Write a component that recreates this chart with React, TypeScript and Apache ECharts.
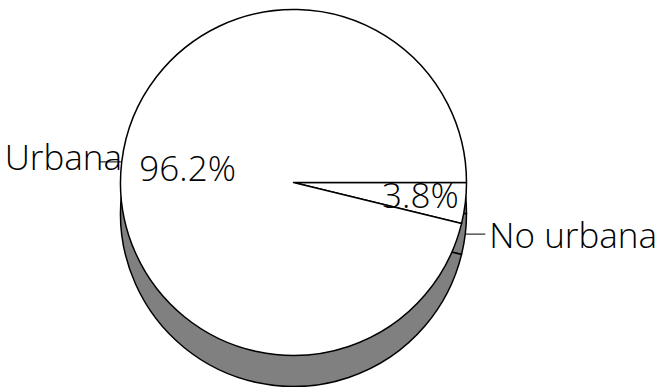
import { useEffect, useRef } from 'react';
import * as echarts from 'echarts';

const categories = ['No urbana', 'Urbana'];
const values = [3.8, 96.2];

const CX = 293.5;
const CY = 182.5;
const R = 173;
const DEPTH = 31;
const FONT = 'Open Sans';
const FS = 35;

export default function App() {
  const ref = useRef<HTMLDivElement>(null);
  useEffect(() => {
    const chart = echarts.init(ref.current!, null, { renderer: 'svg' });
    const textStyle = { fontFamily: FONT, fontSize: FS, fontWeight: 300, color: '#000' };
    const pctOffsets = [[38, 1], [-17, -4]];
    chart.setOption({
      animation: false,
      backgroundColor: '#fff',
      series: [
        {
          type: 'pie',
          silent: true,
          center: [CX, CY + DEPTH],
          radius: R,
          startAngle: 0,
          clockwise: true,
          avoidLabelOverlap: false,
          itemStyle: { color: '#808080', borderColor: '#000', borderWidth: 1.5 },
          emphasis: { disabled: true },
          data: categories.map((name, i) => ({
            name,
            value: values[i],
            label: i === 0
              ? { show: true, position: 'outside', formatter: '{b}', ...textStyle, distanceToLabelLine: 4, edgeDistance: 0 }
              : { show: false },
            labelLine: i === 0
              ? { show: true, length: 0, length2: 20, lineStyle: { color: '#000', width: 1 } }
              : { show: false },
          })),
        },
        {
          type: 'pie',
          silent: true,
          center: [CX, CY],
          radius: R,
          startAngle: 0,
          clockwise: true,
          avoidLabelOverlap: false,
          itemStyle: { color: '#fff', borderColor: '#000', borderWidth: 1.5 },
          emphasis: { disabled: true },
          label: { show: true, position: 'inside', formatter: '{d}%', ...textStyle },
          labelLine: { show: false },
          labelLayout: (p: any) => ({ dx: pctOffsets[p.dataIndex][0], dy: pctOffsets[p.dataIndex][1] }),
          data: categories.map((name, i) => ({ name, value: values[i] })),
        },
        {
          type: 'pie',
          silent: true,
          center: [CX, CY],
          radius: R,
          startAngle: 0,
          clockwise: true,
          avoidLabelOverlap: false,
          itemStyle: { color: 'rgba(0,0,0,0)', borderWidth: 0 },
          emphasis: { disabled: true },
          labelLayout: () => ({ dy: -5 }),
          data: categories.map((name, i) => ({
            name,
            value: values[i],
            label: i === 1
              ? { show: true, position: 'outside', formatter: '{b}', ...textStyle, distanceToLabelLine: -22, edgeDistance: 0 }
              : { show: false },
            labelLine: i === 1
              ? { show: true, length: 0, length2: 21.7, lineStyle: { color: '#000', width: 1 } }
              : { show: false },
          })),
        },
      ],
    });
    return () => chart.dispose();
  }, []);
  return <div ref={ref} style={{ position: 'absolute', left: 0, top: 0, width: 660, height: 387 }} />;
}
